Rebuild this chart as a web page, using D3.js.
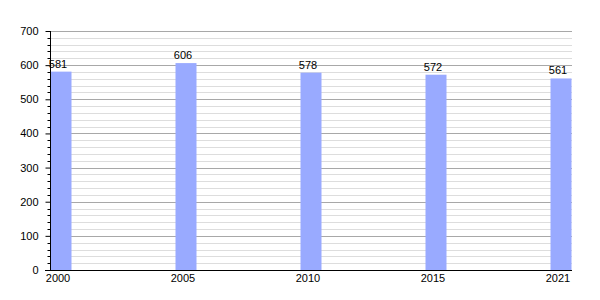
<!DOCTYPE html>
<html>
<head>
<meta charset="utf-8">
<script src="https://cdn.jsdelivr.net/npm/d3@7"></script>
<style>
  body { margin: 0; background: #fff; }
  text { font-family: "Liberation Sans", Arial, sans-serif; font-size: 11px; fill: #000; }
</style>
</head>
<body>
<div id="chart"></div>
<script>
// data
var years = ["2000", "2005", "2010", "2015", "2021"];
var values = [581, 606, 578, 572, 561];
var yTicks = [0, 100, 200, 300, 400, 500, 600, 700];

var svgWidth = 600;
var svgHeight = 300;

var margin = { top: 31, right: 29, bottom: 30, left: 50 };
var width = svgWidth - margin.left - margin.right;
var height = svgHeight - margin.top - margin.bottom;
var barWidth = 21;

var svg = d3.select("#chart")
  .append("svg")
  .attr("width", svgWidth)
  .attr("height", svgHeight);

var chartGroup = svg.append("g")
  .attr("transform", `translate(${margin.left}, ${margin.top})`);

var xScale = d3.scalePoint()
  .domain(years)
  .range([barWidth / 2 + 0.5, width - barWidth / 2 + 0.5]);

var yScale = d3.scaleLinear()
  .domain([0, 700])
  .range([height, 0]);

// minor gridlines every 20
var minor = d3.range(20, 701, 20).filter(d => d % 100 !== 0);
chartGroup.selectAll(".minor")
  .data(minor)
  .enter()
  .append("line")
  .attr("x1", 0)
  .attr("x2", width + 1)
  .attr("y1", d => Math.round(yScale(d)) + 0.5)
  .attr("y2", d => Math.round(yScale(d)) + 0.5)
  .attr("stroke", "#dddddd");

// major gridlines
chartGroup.selectAll(".major")
  .data(yTicks.slice(1))
  .enter()
  .append("line")
  .attr("x1", 0)
  .attr("x2", width + 1)
  .attr("y1", d => Math.round(yScale(d)) + 0.5)
  .attr("y2", d => Math.round(yScale(d)) + 0.5)
  .attr("stroke", "#a8a8a8");

// bars
chartGroup.selectAll(".bar")
  .data(values)
  .enter()
  .append("rect")
  .attr("x", (d, i) => xScale(years[i]) - barWidth / 2)
  .attr("y", d => yScale(d))
  .attr("width", barWidth)
  .attr("height", d => height - yScale(d))
  .attr("fill", "#99aaff");

// value labels
chartGroup.selectAll(".val")
  .data(values)
  .enter()
  .append("text")
  .attr("x", (d, i) => xScale(years[i]) - 3)
  .attr("y", d => yScale(d) - 4)
  .attr("text-anchor", "middle")
  .text(d => d);

// left axis
var leftAxis = d3.axisLeft(yScale)
  .tickValues(yTicks)
  .tickSize(5)
  .tickPadding(7)
  .tickFormat(d3.format("d"));

var yAxis = chartGroup.append("g")
  .attr("transform", "translate(0.5, 0)")
  .call(leftAxis);
yAxis.select(".domain").remove();
yAxis.selectAll("line").attr("stroke", "#000");
yAxis.selectAll("text").style("font-size", "11px").attr("fill", "#000");

// minor ticks
chartGroup.selectAll(".mtick")
  .data(minor)
  .enter()
  .append("line")
  .attr("x1", -2.5)
  .attr("x2", 0.5)
  .attr("y1", d => Math.round(yScale(d)) + 0.5)
  .attr("y2", d => Math.round(yScale(d)) + 0.5)
  .attr("stroke", "#000");

chartGroup.append("line")
  .attr("x1", 0.5)
  .attr("x2", 0.5)
  .attr("y1", 0)
  .attr("y2", height)
  .attr("stroke", "#000");

// bottom axis line
chartGroup.append("line")
  .attr("x1", -5)
  .attr("x2", width + 1)
  .attr("y1", height + 0.5)
  .attr("y2", height + 0.5)
  .attr("stroke", "#000");

// year labels
chartGroup.selectAll(".year")
  .data(years)
  .enter()
  .append("text")
  .attr("x", d => xScale(d) - 3)
  .attr("y", height + 12)
  .attr("text-anchor", "middle")
  .text(d => d);
</script>
</body>
</html>
